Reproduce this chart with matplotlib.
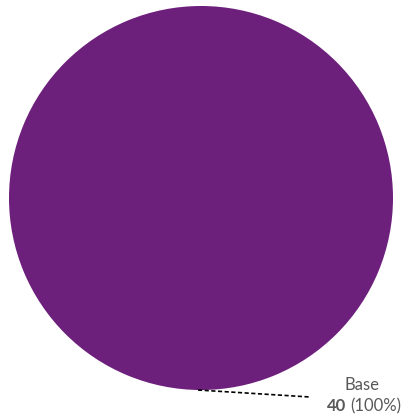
import matplotlib.pyplot as plt

""" DATA """
labels = ["Base"]
values = [40]
colors = ["#6d1f7c"]

total = sum(values)
grey = "#595959"

fig = plt.figure(figsize=(4.04, 4.18), dpi=100)
ax = fig.add_axes([0, 0, 1, 1])

# Pie in pixel coordinates
ax.pie(values, colors=colors, center=(201, 198), radius=192,
       startangle=90, counterclock=False, frame=True,
       wedgeprops=dict(linewidth=0))
ax.set_xlim(0, 404)
ax.set_ylim(418, 0)
ax.set_aspect("equal")
ax.axis("off")

# Leader line and label
ax.plot([198, 310], [390, 397], color="black", lw=1.2, ls=(0, (2.5, 1.5)))
ax.text(362, 393, labels[0], ha="center", va="bottom", fontsize=12,
        color=grey, family="Lato")
t1 = ax.text(327, 398, f"{values[0]}", ha="left", va="top", fontsize=12,
             color=grey, family="Lato", fontweight="bold")
fig.canvas.draw()
bb = t1.get_window_extent()
x_end = ax.transData.inverted().transform((bb.x1, bb.y0))[0]
ax.text(x_end + 4, 398, f"({values[0] / total:.0%})", ha="left", va="top",
        fontsize=12, color=grey, family="Lato")

fig.savefig("out.png", dpi=100)
